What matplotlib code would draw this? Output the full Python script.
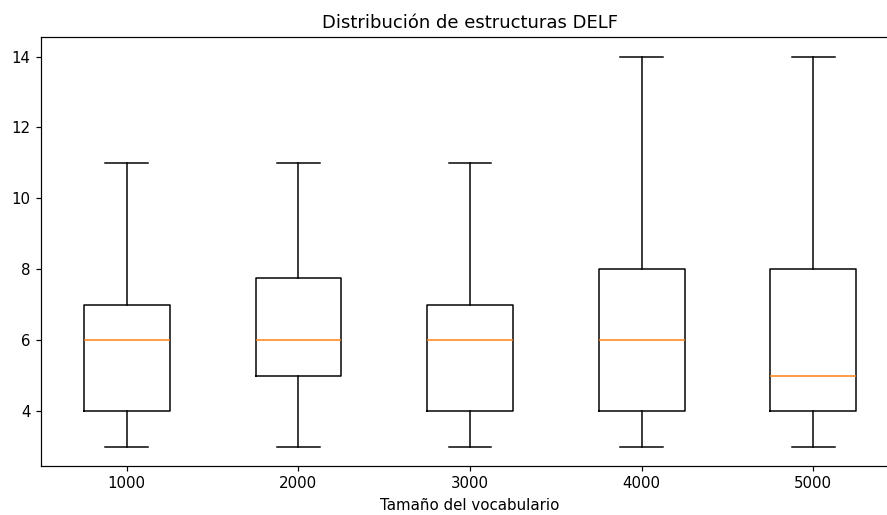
"""Distribución de estructuras DELF por tamaño del vocabulario."""

import matplotlib

matplotlib.use("Agg")
import matplotlib.pyplot as plt

vocab_sizes = ["1000", "2000", "3000", "4000", "5000"]
whisker_low = [3, 3, 3, 3, 3]
q1 = [4, 5, 4, 4, 4]
medians = [6, 6, 6, 6, 5]
q3 = [7, 7.75, 7, 8, 8]
whisker_high = [11, 11, 11, 14, 14]

DPI = 108


def main() -> None:
    stats = [
        {"label": lab, "whislo": lo, "q1": a, "med": m, "q3": b, "whishi": hi, "fliers": []}
        for lab, lo, a, m, b, hi in zip(vocab_sizes, whisker_low, q1, medians, q3, whisker_high)
    ]

    fig = plt.figure(figsize=(887 / DPI, 515 / DPI), dpi=DPI)
    # the original axes run a little past the right edge of the image
    ax = fig.add_axes([41 / 887, 49 / 515, 858 / 887, 429 / 515])
    ax.bxp(stats)
    ax.set_xlim(0.5, 5.5)
    ax.set_xlabel("Tamaño del vocabulario")
    ax.set_title("Distribución de estructuras DELF")
    fig.savefig("out.png", dpi=DPI)


if __name__ == "__main__":
    main()
